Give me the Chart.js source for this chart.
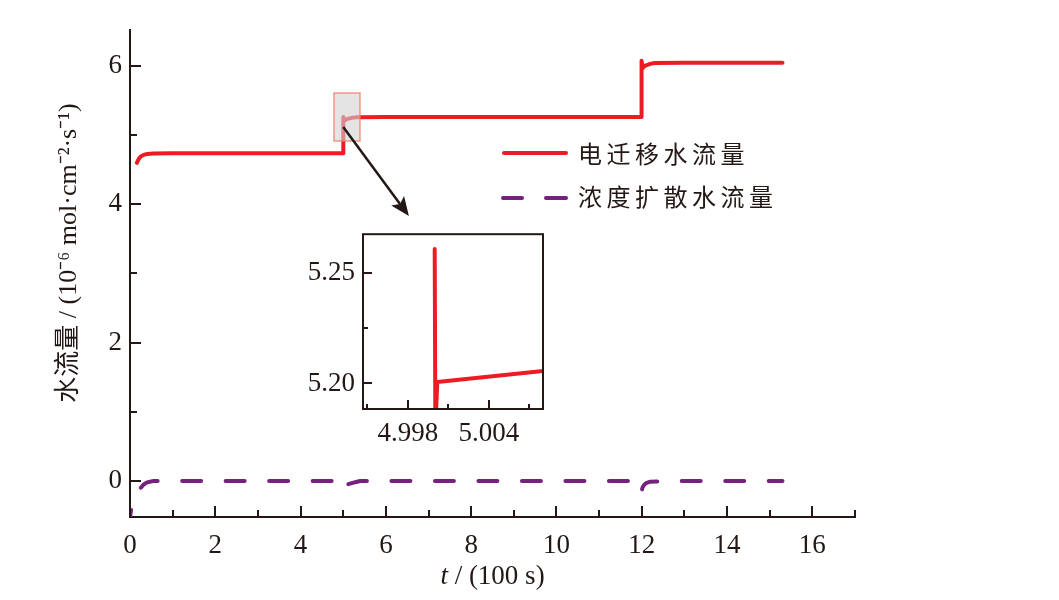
<!DOCTYPE html>
<html>
<head>
<meta charset="utf-8">
<script src="https://cdn.jsdelivr.net/npm/chart.js@4.4.1/dist/chart.umd.min.js"></script>
<style>
  html, body { margin: 0; padding: 0; background: #ffffff; }
  #wrap { position: relative; width: 1059px; height: 600px; overflow: hidden; }
  #main { position: absolute; left: 0; top: 0; width: 1059px; height: 600px; }
  #inset { position: absolute; left: 290px; top: 210px; width: 270px; height: 250px; }
</style>
</head>
<body>
<div id="wrap">
  <canvas id="main" width="1059" height="600"></canvas>
  <canvas id="inset" width="270" height="250"></canvas>
</div>
<script>
// ---------------- data ----------------
const seriesNames = ['电迁移水流量', '浓度扩散水流量'];

// electro-migration water flux (red, solid)
const elecT    = [0.16, 0.2, 0.25, 0.32, 0.4, 0.55, 1, 2, 3, 4, 4.999, 5.0, 5.0001, 5.0002, 5.008, 5.05, 5.1, 5.2, 5.3, 5.4, 6, 8, 10, 11.99, 11.995, 12.02, 12.05, 12.1, 12.2, 12.3, 13, 14, 15.3];
const elecFlux = [4.60, 4.65, 4.69, 4.715, 4.727, 4.735, 4.738, 4.738, 4.738, 4.738, 4.738, 5.261, 5.185, 5.2008, 5.2057, 5.22, 5.235, 5.25, 5.257, 5.26, 5.262, 5.262, 5.262, 5.262, 6.075, 5.97, 5.99, 6.01, 6.03, 6.043, 6.045, 6.045, 6.045];

// concentration-diffusion water flux (purple, dashed)
const diffT    = [0, 0.03, 0.16, 0.2, 0.25, 0.32, 0.4, 0.55, 1, 2, 3, 4, 4.99, 5.0, 5.05, 5.1, 5.2, 5.3, 5.4, 6, 8, 10, 11.99, 12.0, 12.02, 12.05, 12.1, 12.2, 13, 14, 15.3];
const diffFlux = [-0.52, -0.40, -0.23, -0.16, -0.10, -0.05, -0.02, 0, 0, 0, 0, 0, 0, -0.10, -0.07, -0.05, -0.03, -0.015, 0, 0, 0, 0, 0, -0.14, -0.09, -0.06, -0.03, -0.01, 0, 0, 0];

// inset (zoom around t = 5.0)
const zoomT    = [4.99998, 5.00003, 5.00017, 5.008];
const zoomFlux = [5.261, 5.18, 5.2006, 5.2057];

// tick values
const xMajorTicks = [0, 2, 4, 6, 8, 10, 12, 14, 16];
const xMinorTicks = [1, 3, 5, 7, 9, 11, 13, 15, 17];
const yMajorTicks = [0, 2, 4, 6];
const yMinorTicks = [1, 3, 5];
const zxMajorTicks = [4.998, 5.004];
const zxMinorTicks = [4.995, 5.001, 5.007];
const zyMajorTicks = [5.20, 5.25];
const zyMinorTicks = [5.225];

// annotation (data units)
const boxT = [4.783, 5.393];
const boxFlux = [4.915, 5.609];
const arrowFrom = [5.0, 5.117];
const arrowTo = [6.54, 3.83];

const xTitleItalic = 't';
const xTitleRest = ' / (100 s)';
const yTitle = '水流量 / (10⁻⁶ mol·cm⁻²·s⁻¹)';

// ---------------- style ----------------
const INK = '#231815';
const RED = '#ED1C24';
const PURPLE = '#76217E';
const SERIF = '"Liberation Serif", "Noto Sans CJK SC", serif';
const CJK = '"Noto Sans CJK SC", sans-serif';

const toXY = (xs, ys) => xs.map((v, i) => ({ x: v, y: ys[i] }));

function drawTickMarks(chart, xs, ys, majorLen, minorLen, lw) {
  const { ctx, chartArea: { left, bottom }, scales: { x, y } } = chart;
  ctx.save();
  ctx.strokeStyle = INK;
  ctx.lineWidth = lw;
  ctx.lineCap = 'butt';
  const seg = (x0, y0, x1, y1) => { ctx.beginPath(); ctx.moveTo(x0, y0); ctx.lineTo(x1, y1); ctx.stroke(); };
  xs.major.forEach(v => { const p = Math.round(x.getPixelForValue(v)); seg(p, bottom, p, bottom - majorLen); });
  xs.minor.forEach(v => { const p = Math.round(x.getPixelForValue(v)); seg(p, bottom, p, bottom - minorLen); });
  ys.major.forEach(v => { const p = Math.round(y.getPixelForValue(v)); seg(left, p, left + majorLen, p); });
  ys.minor.forEach(v => { const p = Math.round(y.getPixelForValue(v)); seg(left, p, left + minorLen, p); });
  ctx.restore();
}

const mainDecor = {
  id: 'mainDecor',
  afterDatasetsDraw(chart) {
    const { ctx, scales: { x, y } } = chart;
    ctx.save();
    // highlight box
    const bx0 = x.getPixelForValue(boxT[0]), bx1 = x.getPixelForValue(boxT[1]);
    const by0 = y.getPixelForValue(boxFlux[1]), by1 = y.getPixelForValue(boxFlux[0]);
    ctx.fillStyle = 'rgba(210,210,210,0.6)';
    ctx.fillRect(bx0, by0, bx1 - bx0, by1 - by0);
    ctx.strokeStyle = 'rgba(236,120,100,0.75)';
    ctx.lineWidth = 1.5;
    ctx.strokeRect(bx0, by0, bx1 - bx0, by1 - by0);
    // arrow
    const ax0 = x.getPixelForValue(arrowFrom[0]), ay0 = y.getPixelForValue(arrowFrom[1]);
    const ax1 = x.getPixelForValue(arrowTo[0]), ay1 = y.getPixelForValue(arrowTo[1]);
    const ang = Math.atan2(ay1 - ay0, ax1 - ax0);
    const headL = 19, headW = 8;
    const hx = ax1 - headL * Math.cos(ang), hy = ay1 - headL * Math.sin(ang);
    ctx.strokeStyle = INK;
    ctx.lineWidth = 2.5;
    ctx.beginPath(); ctx.moveTo(ax0, ay0); ctx.lineTo(hx + 4 * Math.cos(ang), hy + 4 * Math.sin(ang)); ctx.stroke();
    ctx.fillStyle = INK;
    ctx.beginPath();
    ctx.moveTo(ax1, ay1);
    ctx.lineTo(hx + headW * Math.sin(ang), hy - headW * Math.cos(ang));
    ctx.lineTo(hx + 4 * Math.cos(ang), hy + 4 * Math.sin(ang));
    ctx.lineTo(hx - headW * Math.sin(ang), hy + headW * Math.cos(ang));
    ctx.closePath();
    ctx.fill();
    ctx.restore();
  },
  afterDraw(chart) {
    const { ctx, chartArea } = chart;
    drawTickMarks(chart, { major: xMajorTicks, minor: xMinorTicks }, { major: yMajorTicks, minor: yMinorTicks }, 11, 7, 2);
    ctx.save();
    ctx.fillStyle = INK;
    // x title with italic t
    ctx.textBaseline = 'middle';
    const fItal = 'italic 27px ' + SERIF, fReg = '27px ' + SERIF;
    ctx.font = fItal; const w1 = ctx.measureText(xTitleItalic).width;
    ctx.font = fReg; const w2 = ctx.measureText(xTitleRest).width;
    const cx = (chartArea.left + chartArea.right) / 2;
    const sx = cx - (w1 + w2) / 2;
    ctx.textAlign = 'left';
    ctx.font = fItal; ctx.fillText(xTitleItalic, sx, 577);
    ctx.font = fReg; ctx.fillText(xTitleRest, sx + w1, 577);
    // y title (rotated)
    ctx.save();
    ctx.translate(69, 253);
    ctx.rotate(-Math.PI / 2);
    ctx.textAlign = 'center';
    ctx.font = '26px ' + SERIF;
    ctx.fillText(yTitle, 0, 0);
    ctx.restore();
    // legend
    const ds = chart.data.datasets;
    ctx.lineWidth = 4;
    ctx.lineCap = 'round';
    ctx.strokeStyle = ds[0].borderColor;
    ctx.beginPath(); ctx.moveTo(504, 153); ctx.lineTo(566, 153); ctx.stroke();
    ctx.strokeStyle = ds[1].borderColor;
    ctx.beginPath(); ctx.moveTo(503, 198); ctx.lineTo(522, 198); ctx.stroke();
    ctx.beginPath(); ctx.moveTo(546, 198); ctx.lineTo(566, 198); ctx.stroke();
    ctx.font = '24px ' + CJK;
    ctx.letterSpacing = '4.5px';
    ctx.textAlign = 'left';
    ctx.fillStyle = INK;
    ctx.fillText(ds[0].label, 578, 154);
    ctx.fillText(ds[1].label, 578, 197);
    ctx.restore();
  }
};

new Chart(document.getElementById('main'), {
  type: 'line',
  data: {
    datasets: [
      { label: seriesNames[0], data: toXY(elecT, elecFlux), borderColor: RED, borderWidth: 4,
        pointRadius: 0, tension: 0, fill: false, borderJoinStyle: 'round', borderCapStyle: 'round' },
      { label: seriesNames[1], data: toXY(diffT, diffFlux), borderColor: PURPLE, borderWidth: 4,
        pointRadius: 0, tension: 0, fill: false, borderJoinStyle: 'round', borderCapStyle: 'round',
        borderDash: [19, 24.5], borderDashOffset: 12 }
    ]
  },
  options: {
    responsive: false, animation: false, devicePixelRatio: 1,
    layout: { padding: { left: 0, top: 30, right: 204, bottom: 0 } },
    plugins: { legend: { display: false }, tooltip: { enabled: false } },
    scales: {
      x: {
        type: 'linear', min: 0, max: 17,
        afterBuildTicks: s => { s.ticks = xMajorTicks.map(v => ({ value: v })); },
        afterFit: s => { s.height = 83; },
        grid: { display: false, drawTicks: false },
        border: { display: true, color: INK, width: 2 },
        ticks: { font: { family: SERIF, size: 27 }, color: INK, padding: 13, maxRotation: 0, autoSkip: false }
      },
      y: {
        type: 'linear', min: -0.52, max: 6.52,
        afterBuildTicks: s => { s.ticks = yMajorTicks.map(v => ({ value: v })); },
        afterFit: s => { s.width = 130; },
        grid: { display: false, drawTicks: false },
        border: { display: true, color: INK, width: 2 },
        ticks: { font: { family: SERIF, size: 27 }, color: INK, padding: 8 }
      }
    }
  },
  plugins: [mainDecor]
});

const insetDecor = {
  id: 'insetDecor',
  afterDraw(chart) {
    const { ctx, chartArea: { left, right, top, bottom } } = chart;
    drawTickMarks(chart, { major: zxMajorTicks, minor: zxMinorTicks }, { major: zyMajorTicks, minor: zyMinorTicks }, 9, 5, 2);
    ctx.save();
    ctx.strokeStyle = INK;
    ctx.lineWidth = 2;
    ctx.strokeRect(left, top, right - left, bottom - top);
    ctx.restore();
  }
};

new Chart(document.getElementById('inset'), {
  type: 'line',
  data: {
    datasets: [
      { label: seriesNames[0], data: toXY(zoomT, zoomFlux), borderColor: RED, borderWidth: 4,
        pointRadius: 0, tension: 0, fill: false, borderJoinStyle: 'round', borderCapStyle: 'round' }
    ]
  },
  options: {
    responsive: false, animation: false, devicePixelRatio: 1,
    layout: { padding: { left: 0, top: 15, right: 17, bottom: 0 } },
    plugins: { legend: { display: false }, tooltip: { enabled: false } },
    scales: {
      x: {
        type: 'linear', min: 4.99467, max: 5.0080,
        afterBuildTicks: s => { s.ticks = zxMajorTicks.map(v => ({ value: v })); },
        afterFit: s => { s.height = 51; },
        grid: { display: false, drawTicks: false },
        border: { display: false },
        ticks: { font: { family: SERIF, size: 27 }, color: INK, padding: 9, maxRotation: 0, autoSkip: false,
                 callback: v => Number(v).toFixed(3) }
      },
      y: {
        type: 'linear', min: 5.1884, max: 5.2677,
        afterBuildTicks: s => { s.ticks = zyMajorTicks.map(v => ({ value: v })); },
        afterFit: s => { s.width = 73; },
        grid: { display: false, drawTicks: false },
        border: { display: false },
        ticks: { font: { family: SERIF, size: 27 }, color: INK, padding: 8,
                 callback: v => Number(v).toFixed(2) }
      }
    }
  },
  plugins: [insetDecor]
});
</script>
</body>
</html>
